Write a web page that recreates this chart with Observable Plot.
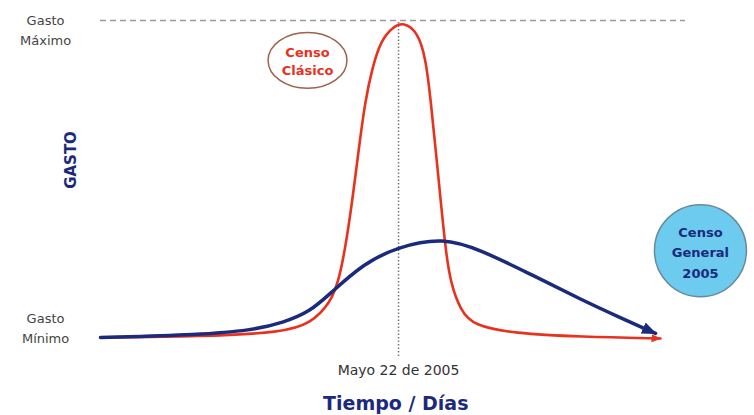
<!DOCTYPE html>
<html>
<head>
<meta charset="utf-8">
<script src="https://cdn.jsdelivr.net/npm/d3@7"></script>
<script src="https://cdn.jsdelivr.net/npm/@observablehq/plot@0.6"></script>
<style>
  html, body { margin: 0; padding: 0; background: #ffffff; }
  svg { display: block; }
</style>
</head>
<body>
<div id="chart"></div>
<script>
// Time axis (relative day units, 0..100) and the two spending curves (0 = mínimo, 100 = máximo)
const diasClasico  = [0, 18, 33, 37.8, 41.4, 43.2, 45.0, 46.5, 47.7, 49.0, 50.5, 52.8, 54.6, 57.1, 58.6, 59.5, 60.4, 61.3, 62.2, 63.1, 64.9, 67.2, 74.4, 86.5, 100.9];
const gastoClasico = [0, 0.3, 1.6, 4.4, 10.7, 18.9, 37.9, 59, 74.8, 85.2, 93.7, 98.2, 99.4, 96.5, 88.3, 74.8, 59, 43.2, 27.4, 17, 8.5, 3.8, 1.3, 0.2, -0.3];

const diasGeneral  = [0, 18, 27, 33, 37.8, 41.4, 47.4, 53.5, 61.8, 68.5, 77.5, 86.5, 93.7, 100];
const gastoGeneral = [0, 0.9, 2.2, 4.7, 8.2, 13.9, 23.3, 28.6, 31.6, 27.6, 20, 12.0, 6.2, 1.3];

const fechaCenso = 53.7;
const gastoMaximo = 100;

// Text labels
const etiquetasGasto = [
  {x: -9.9, y: 97.5, text: "Gasto\nMáximo"},
  {x: -9.9, y: 3.5,  text: "Gasto\nMínimo"}
];
const etiquetaFecha = "Mayo 22 de 2005";
const tituloX = "Tiempo / Días";
const tituloY = "GASTO";
const censoClasico = {x: 37.3, y: 87.4, text: "Censo\nClásico"};
const censoGeneral = {x: 108.1, y: 27.4, text: "Censo\nGeneral\n2005"};

const clasico = diasClasico.map((d, i) => ({dia: d, gasto: gastoClasico[i]}));
const general = diasGeneral.map((d, i) => ({dia: d, gasto: gastoGeneral[i]}));

const navy = "#1b2a7c";
const red = "#e8321e";

// filled arrowhead marker
function filledArrow(size) {
  return (color) => {
    const ns = "http://www.w3.org/2000/svg";
    const m = document.createElementNS(ns, "marker");
    m.setAttribute("viewBox", "-5 -5 10 10");
    m.setAttribute("markerWidth", size);
    m.setAttribute("markerHeight", size);
    m.setAttribute("markerUnits", "userSpaceOnUse");
    m.setAttribute("refX", 4);
    m.setAttribute("orient", "auto");
    const p = document.createElementNS(ns, "path");
    p.setAttribute("d", "M-5,-4L5,0L-5,4Z");
    p.setAttribute("fill", color);
    p.setAttribute("stroke", "none");
    m.appendChild(p);
    return m;
  };
}

// ellipse symbol (wider than tall)
const ellipseSymbol = {
  draw(context, size) {
    const r = Math.sqrt(size / Math.PI);
    const rx = r * 1.16, ry = r * 0.82, k = 0.5523;
    context.moveTo(rx, 0);
    context.bezierCurveTo(rx, ry * k, rx * k, ry, 0, ry);
    context.bezierCurveTo(-rx * k, ry, -rx, ry * k, -rx, 0);
    context.bezierCurveTo(-rx, -ry * k, -rx * k, -ry, 0, -ry);
    context.bezierCurveTo(rx * k, -ry, rx, -ry * k, rx, 0);
    context.closePath();
  }
};

const chart = Plot.plot({
  width: 754,
  height: 415,
  marginLeft: 100,
  marginRight: 99,
  marginTop: 20,
  marginBottom: 78,
  x: {domain: [0, 100], axis: null},
  y: {domain: [0, 100], axis: null},
  style: {background: "#ffffff", fontFamily: "DejaVu Sans, sans-serif"},
  marks: [
    Plot.ruleY([gastoMaximo], {x1: 0, x2: 105.4, stroke: "#9a9a9a", strokeWidth: 1.5, strokeDasharray: "6,4"}),
    Plot.ruleX([fechaCenso], {y1: -6, y2: 100, stroke: "#777", strokeWidth: 1.5, strokeDasharray: "1.5,2"}),
    Plot.line(clasico, {x: "dia", y: "gasto", stroke: red, strokeWidth: 2.6, curve: "basis", markerEnd: filledArrow(10)}),
    Plot.line(general, {x: "dia", y: "gasto", stroke: navy, strokeWidth: 3.5, curve: "basis", markerEnd: filledArrow(15)}),
    Plot.text(etiquetasGasto, {x: "x", y: "y", text: "text", fontSize: 13, fill: "#444", lineHeight: 1.6}),
    Plot.text([etiquetaFecha], {x: fechaCenso, y: -10.4, fontSize: 14, fill: "#333"}),
    Plot.text([tituloX], {x: 53.2, y: -20.8, fontSize: 19, fontWeight: "bold", fill: navy}),
    Plot.text([tituloY], {x: -5.2, y: 56, fontSize: 15, fontWeight: "bold", fill: navy, rotate: -90}),
    Plot.dot([censoClasico], {x: "x", y: "y", r: 34, symbol: ellipseSymbol, fill: "#ffffff", stroke: "#a0604a", strokeWidth: 1.5}),
    Plot.text([censoClasico], {x: "x", y: "y", text: "text", fontSize: 13, fontWeight: "bold", fill: red, lineHeight: 1.4}),
    Plot.dot([censoGeneral], {x: "x", y: "y", r: 46, fill: "#6ccbee", stroke: "#6a8a99", strokeWidth: 1.5}),
    Plot.text([censoGeneral], {x: "x", y: "y", text: "text", fontSize: 13, fontWeight: "bold", fill: navy, lineHeight: 1.6})
  ]
});
document.getElementById("chart").appendChild(chart);
</script>
</body>
</html>
